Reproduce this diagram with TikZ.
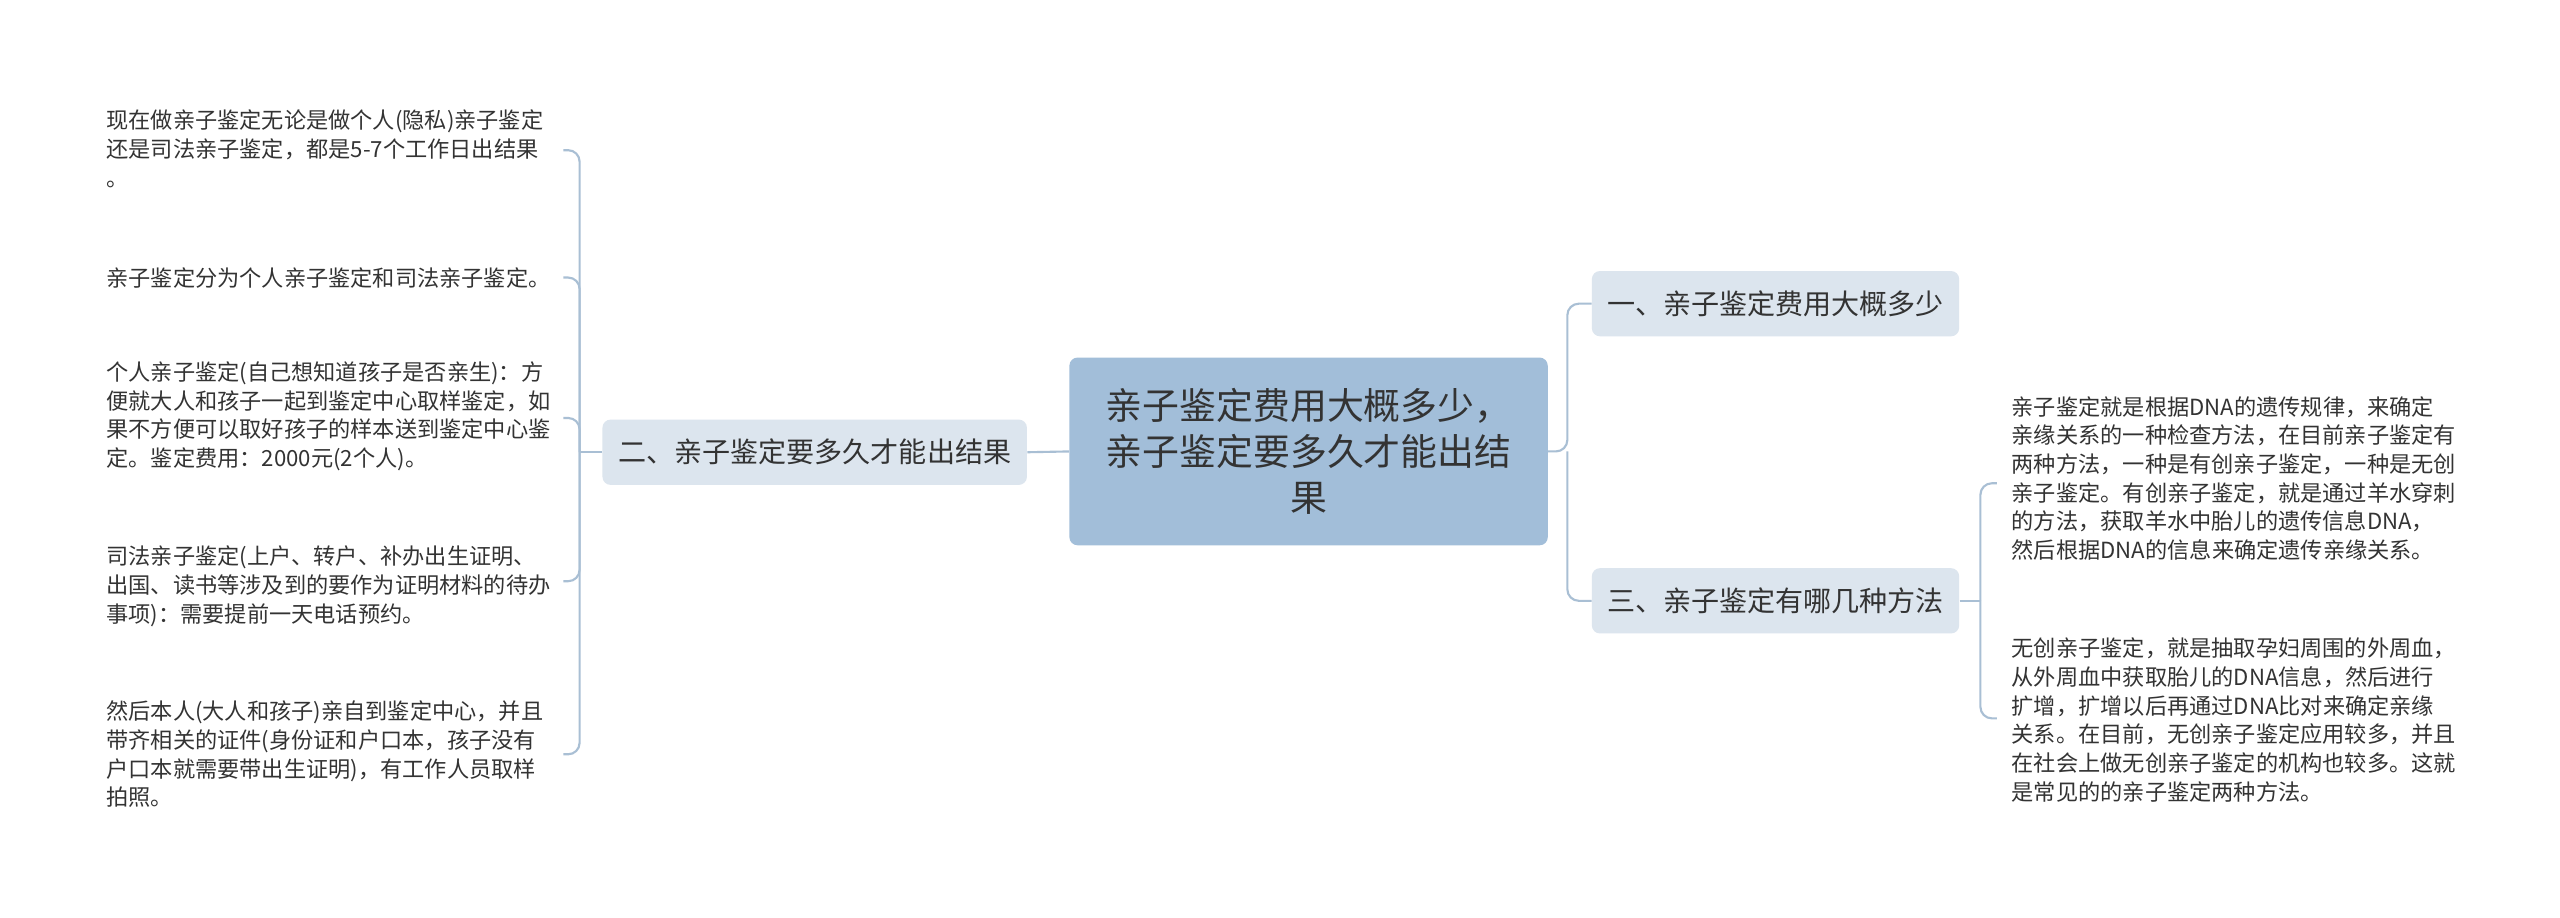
\documentclass[tikz,border=0pt]{standalone}
\usepackage{fontspec}
\setmainfont{Noto Sans CJK SC}
\begin{document}
\begin{tikzpicture}[x=1pt,y=-1pt,
  conn/.style={draw=lk,line width=1.3pt,rounded corners=7pt},
  leaf/.style={inner sep=0pt,anchor=west,align=left,font=\fontsize{13.6}{17.6}\selectfont,text=tx},
  sub/.style={fill=sb,rounded corners=5pt,minimum height=40pt,inner sep=5pt,font=\fontsize{17.2}{20}\selectfont,text=tx}]
\definecolor{lk}{HTML}{A9BFD4}
\definecolor{sb}{HTML}{DCE5EE}
\definecolor{cb}{HTML}{A2BED9}
\definecolor{tx}{HTML}{333333}
\useasboundingbox (0,0) rectangle (1568,562);
\fill[white] (0,0) rectangle (1568,562);
\node[fill=cb,rounded corners=5pt,minimum width=293pt,minimum height=115pt,align=center,font=\fontsize{22.6}{28}\selectfont,text=tx] (c) at (801.5,276.5) {亲子鉴定费用大概多少，\\亲子鉴定要多久才能出结\\果};
\node[sub,minimum width=225pt] (r1) at (1087.5,186) {一、亲子鉴定费用大概多少};
\node[sub,minimum width=225pt] (r3) at (1087.5,368) {三、亲子鉴定有哪几种方法};
\node[sub,minimum width=260pt] (l2) at (499,277) {二、亲子鉴定要多久才能出结果};
\draw[conn] (c.east) -- (960,276.5) |- (r1.west);
\draw[conn] (960,276.5) |- (r3.west);
\draw[conn] (c.west) -- (l2.east);
% left leaves
\node[leaf] (a1) at (65,91) {现在做亲子鉴定无论是做个人(隐私)亲子鉴定\\还是司法亲子鉴定，都是5-7个工作日出结果\\。};
\node[leaf] (a2) at (65,170) {亲子鉴定分为个人亲子鉴定和司法亲子鉴定。};
\node[leaf] (a3) at (65,255) {个人亲子鉴定(自己想知道孩子是否亲生)：方\\便就大人和孩子一起到鉴定中心取样鉴定，如\\果不方便可以取好孩子的样本送到鉴定中心鉴\\定。鉴定费用：2000元(2个人)。};
\node[leaf] (a4) at (65,359) {司法亲子鉴定(上户、转户、补办出生证明、\\出国、读书等涉及到的要作为证明材料的待办\\事项)：需要提前一天电话预约。};
\node[leaf] (a5) at (65,462) {然后本人(大人和孩子)亲自到鉴定中心，并且\\带齐相关的证件(身份证和户口本，孩子没有\\户口本就需要带出生证明)，有工作人员取样\\拍照。};
\coordinate (lj) at (355,277);
\draw[conn] (l2.west) -- (lj);
\foreach \y in {92,170,256,356,462} \draw[conn] (lj) |- (345,\y);
% right leaves
\node[leaf] (b1) at (1232,293) {亲子鉴定就是根据DNA的遗传规律，来确定\\亲缘关系的一种检查方法，在目前亲子鉴定有\\两种方法，一种是有创亲子鉴定，一种是无创\\亲子鉴定。有创亲子鉴定，就是通过羊水穿刺\\的方法，获取羊水中胎儿的遗传信息DNA，\\然后根据DNA的信息来确定遗传亲缘关系。};
\node[leaf] (b2) at (1232,441) {无创亲子鉴定，就是抽取孕妇周围的外周血，\\从外周血中获取胎儿的DNA信息，然后进行\\扩增，扩增以后再通过DNA比对来确定亲缘\\关系。在目前，无创亲子鉴定应用较多，并且\\在社会上做无创亲子鉴定的机构也较多。这就\\是常见的的亲子鉴定两种方法。};
\coordinate (rj) at (1213,368);
\draw[conn] (r3.east) -- (rj);
\draw[conn] (rj) |- (1223,296);
\draw[conn] (rj) |- (1223,440);
\end{tikzpicture}
\end{document}
